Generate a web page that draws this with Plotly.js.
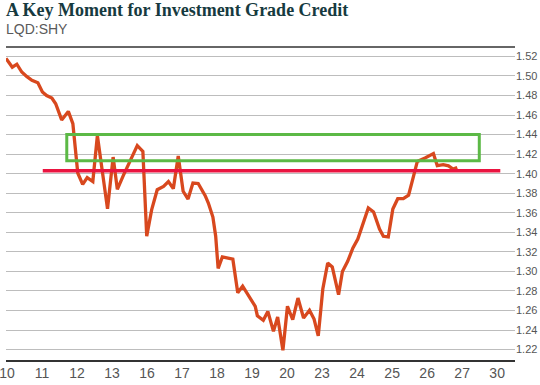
<!DOCTYPE html>
<html>
<head>
<meta charset="utf-8">
<script src="https://cdn.plot.ly/plotly-3.0.1.min.js"></script>
<style>html,body{margin:0;padding:0;background:#fff}#chart{width:540px;height:385px}</style>
</head>
<body>
<div id="chart"></div>
<script>
// Category tick labels along the x axis (evenly spaced)
var xTickLabels = ["10","11","12","13","16","17","18","19","20","23","24","25","26","27","30"];

// Series position (in tick-index units) and LQD:SHY ratio values
var seriesX = [-0.03,0.15,0.28,0.42,0.56,0.71,0.88,1.01,1.13,1.28,1.39,1.56,1.75,1.88,2.02,2.16,2.29,2.45,2.58,2.87,
  3.03,3.15,3.32,3.51,3.72,3.88,3.99,4.13,4.29,4.47,4.61,4.75,4.89,5.03,5.17,5.31,5.46,5.66,5.75,5.88,
  5.96,6.03,6.15,6.45,6.59,6.73,7.09,7.15,7.32,7.45,7.61,7.73,7.88,8.01,8.16,8.31,8.47,8.64,8.77,8.89,
  9.02,9.16,9.29,9.47,9.58,9.73,9.88,10.02,10.32,10.47,10.64,10.75,10.89,11.02,11.16,11.32,11.47,11.61,11.72,11.94,
  12.18,12.29,12.46,12.61,12.74,12.86];
var ratioValues = [1.518,1.509,1.512,1.504,1.4995,1.4955,1.493,1.4836,1.480,1.4774,1.4716,1.455,1.4637,1.4512,1.4007,1.389,1.396,1.392,1.439,1.364,
  1.417,1.384,1.398,1.4127,1.4287,1.4228,1.336,1.363,1.3836,1.387,1.392,1.3847,1.418,1.382,1.374,1.3904,1.390,1.3775,1.370,1.3556,
  1.336,1.303,1.3148,1.3125,1.2783,1.285,1.2643,1.2547,1.250,1.2591,1.2387,1.2534,1.2193,1.2644,1.2506,1.2728,1.2524,1.2602,1.2513,1.234,
  1.282,1.3087,1.3046,1.2762,1.300,1.3103,1.324,1.3332,1.3649,1.3608,1.3434,1.3359,1.3353,1.3639,1.3744,1.3744,1.378,1.3972,1.4126,1.416,
  1.4205,1.4082,1.4092,1.408,1.4048,1.4064];

// Y axis ticks
var yTickVals = [1.22,1.24,1.26,1.28,1.30,1.32,1.34,1.36,1.38,1.40,1.42,1.44,1.46,1.48,1.50,1.52];

// Annotation levels
var boxRange = {x0: 1.706, x1: 13.49, y0: 1.4133, y1: 1.44};
var supportLevel = {x0: 1.02, x1: 14.09, y: 1.403};

var sans = "Liberation Sans, Arial, sans-serif";

var trace = {
  x: seriesX, y: ratioValues, type: "scatter", mode: "lines",
  line: {color: "#D8481E", width: 3.3}, hoverinfo: "skip"
};

var xi = xTickLabels.map(function(_, i){ return i; });

var layout = {
  width: 540, height: 385,
  margin: {l: 6, r: 25, t: 47, b: 25},
  paper_bgcolor: "#fff", plot_bgcolor: "#fff",
  showlegend: false,
  title: {
    text: "A Key Moment for Investment Grade Credit",
    font: {family: "Liberation Serif, DejaVu Serif, serif", size: 18, color: "#163a40", weight: 700},
    x: 6/540, xanchor: "left", xref: "container",
    y: 1 - 10/385, yanchor: "middle", yref: "container"
  },
  annotations: [{
    text: "LQD:SHY", xref: "paper", yref: "paper", x: 0, xshift: -2, y: 1.058,
    xanchor: "left", yanchor: "middle", showarrow: false,
    font: {family: sans, size: 14, color: "#5a5a5a"}
  }],
  xaxis: {
    range: [-0.03, 14.51], tickmode: "array", tickvals: xi, ticktext: xTickLabels,
    showgrid: false, zeroline: false, showline: true, linecolor: "#333", linewidth: 1.5,
    ticks: "", ticklabeloverflow: "allow",
    tickfont: {family: sans, size: 14, color: "#555"}, fixedrange: true
  },
  yaxis: {
    range: [1.2094, 1.5296], side: "right", tickmode: "array", tickvals: yTickVals,
    ticktext: yTickVals.map(function(v){ return v.toFixed(2); }),
    showgrid: true, gridcolor: "#bdbdbd", gridwidth: 1, zeroline: false, showline: false,
    ticks: "", ticklabeloverflow: "allow",
    tickfont: {family: sans, size: 11, color: "#555"}, fixedrange: true
  },
  shapes: [
    {type: "line", xref: "paper", yref: "paper", x0: 0, x1: 1, y0: 1, y1: 1,
     line: {color: "#333", width: 1.5}},
    {type: "rect", xref: "x", yref: "y", x0: boxRange.x0, x1: boxRange.x1, y0: boxRange.y0, y1: boxRange.y1,
     line: {color: "#5CB946", width: 3}, fillcolor: "rgba(0,0,0,0)"},
    {type: "line", xref: "x", yref: "y", x0: supportLevel.x0, x1: supportLevel.x1, y0: supportLevel.y, y1: supportLevel.y,
     line: {color: "#EA1440", width: 3.5}}
  ]
};

Plotly.newPlot("chart", [trace], layout, {staticPlot: true, displayModeBar: false});
</script>
</body>
</html>
